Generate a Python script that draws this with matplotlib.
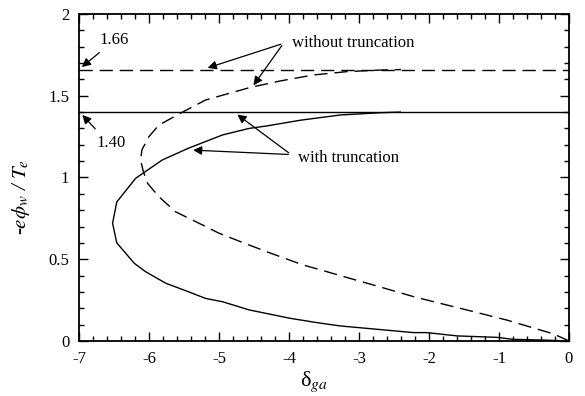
import numpy as np
import matplotlib.pyplot as plt
from matplotlib.ticker import MultipleLocator

plt.rcParams['font.family'] = 'Liberation Serif'
plt.rcParams['mathtext.fontset'] = 'stix'

# with truncation (solid)
trunc_x = [0, -0.41, -0.80, -1.03, -1.60, -2.03, -2.22, -3.27, -3.60, -3.99, -4.57, -4.95,
           -5.19, -5.43, -5.76, -6.05, -6.21, -6.46, -6.52, -6.46, -6.19, -5.81, -5.43,
           -4.95, -4.57, -4.32, -3.84, -3.27, -2.70, -2.41]
trunc_y = [0, 0.006, 0.01, 0.022, 0.031, 0.051, 0.051, 0.092, 0.112, 0.139, 0.19, 0.24,
           0.26, 0.30, 0.353, 0.424, 0.475, 0.60, 0.72, 0.85, 0.995, 1.107, 1.18,
           1.26, 1.30, 1.315, 1.35, 1.382, 1.396, 1.40]

# without truncation (dashed)
notrunc_x = [0, -0.22, -0.41, -0.89, -1.37, -1.84, -2.22, -2.80, -3.13, -3.51, -3.80, -4.32,
             -4.57, -5.0, -5.19, -5.62, -5.86, -6.02, -6.08, -6.12, -6.10, -6.0, -5.86, -5.52,
             -5.19, -4.56, -4.13, -3.65, -3.18, -2.7, -2.4]
notrunc_y = [0, 0.043, 0.067, 0.128, 0.18, 0.23, 0.271, 0.343, 0.383, 0.43, 0.465, 0.546,
             0.587, 0.659, 0.70, 0.79, 0.883, 0.964, 1.035, 1.107, 1.17, 1.25, 1.32, 1.40,
             1.474, 1.55, 1.59, 1.627, 1.647, 1.657, 1.66]

lim_trunc = 1.40
lim_notrunc = 1.66

fig = plt.figure(figsize=(5.85, 3.96), dpi=100)
ax = fig.add_axes([0.135, 0.139, 0.8376, 0.8257])

dash = (0, (9.5, 5))
ax.plot(trunc_x, trunc_y, color='black', lw=1.0)
ax.plot(notrunc_x, notrunc_y, color='black', lw=1.0, linestyle=dash)
ax.axhline(lim_trunc, color='black', lw=1.0)
ax.axhline(lim_notrunc, color='black', lw=1.0, linestyle=dash)

ax.set_xlim(-7, 0)
ax.set_ylim(0, 2)
ax.xaxis.set_major_locator(MultipleLocator(1))
ax.xaxis.set_minor_locator(MultipleLocator(0.2))
ax.yaxis.set_major_locator(MultipleLocator(0.5))
ax.yaxis.set_minor_locator(MultipleLocator(0.1))
ax.set_yticks([0, 0.5, 1, 1.5, 2])
ax.set_yticklabels(['0', '0.5', '1', '1.5', '2'])
ax.set_xticks(range(-7, 1))
ax.set_xticklabels([str(v) for v in range(-7, 1)])
ax.tick_params(which='both', direction='in', top=True, right=True, labelsize=12, width=1.0)
ax.tick_params(which='major', length=6.5)
ax.tick_params(which='minor', length=3.6)
ax.tick_params(axis='x', pad=7)
ax.tick_params(axis='y', pad=7)
for s in ax.spines.values():
    s.set_linewidth(1.3)

ax.set_xlabel('δ$_{ga}$', fontsize=16)
ax.set_ylabel('-$e\\phi_w$ / $T_e$', fontsize=15, style='italic')
ax.yaxis.set_label_coords(-0.095, 0.44)
ax.xaxis.set_label_coords(0.48, -0.088)

arw = dict(arrowstyle='-|>', color='black', lw=0.9, mutation_scale=13)
ax.annotate('1.66', xy=(-6.99, 1.665), xytext=(-6.7, 1.84), fontsize=12,
            ha='left', va='center', arrowprops=arw)
ax.annotate('', xy=(-6.98, 1.395), xytext=(-6.74, 1.285), arrowprops=arw)
ax.text(-6.75, 1.21, '1.40', fontsize=12, ha='left', va='center')

ax.text(-3.96, 1.82, 'without truncation', fontsize=12, ha='left', va='center')
ax.annotate('', xy=(-5.2, 1.665), xytext=(-4.08, 1.82), arrowprops=arw)
ax.annotate('', xy=(-4.53, 1.55), xytext=(-4.08, 1.82), arrowprops=arw)

ax.text(-3.87, 1.12, 'with truncation', fontsize=12, ha='left', va='center')
ax.annotate('', xy=(-5.41, 1.168), xytext=(-3.97, 1.14), arrowprops=arw)
ax.annotate('', xy=(-4.77, 1.395), xytext=(-3.97, 1.14), arrowprops=arw)

fig.savefig('out.png', dpi=100)
